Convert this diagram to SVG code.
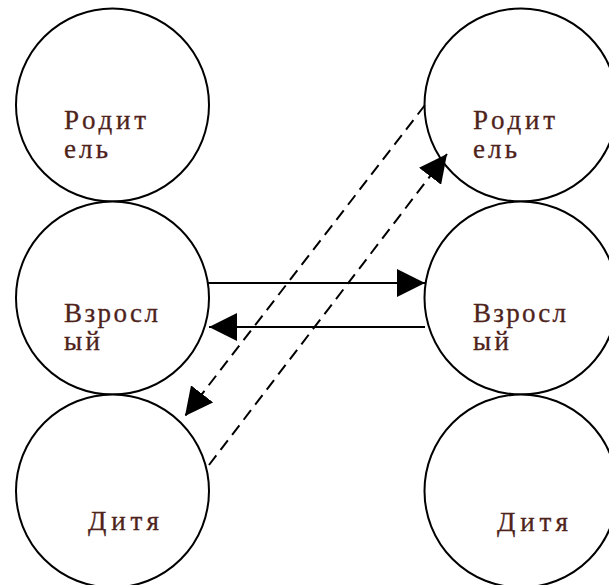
<svg xmlns="http://www.w3.org/2000/svg" width="609" height="585" viewBox="0 0 609 585">
<defs>
<style>
.node{fill:#ffffff;stroke:#000000;stroke-width:2}
.lbl{font-family:"Liberation Serif","DejaVu Serif",serif;font-size:27px;fill:#4e231b;stroke:#4e231b;stroke-width:0.3}
.solid{stroke:#000000;stroke-width:2;fill:none}
.dash{stroke:#000000;stroke-width:2;fill:none;stroke-dasharray:12 7}
</style>
<marker id="ah" markerUnits="userSpaceOnUse" markerWidth="28" markerHeight="28" refX="28" refY="14" orient="auto" viewBox="0 0 28 28">
<path d="M0,0 L28,14 L0,28 Z" fill="#000000"/>
</marker>
</defs>
<rect width="609" height="585" fill="#ffffff"/>
<g id="left-parent">
<circle class="node" cx="112.5" cy="105" r="96.5"/>
<text class="lbl" x="64" y="129" textLength="82" lengthAdjust="spacing">Родит</text>
<text class="lbl" x="64" y="158" textLength="44" lengthAdjust="spacing">ель</text>
</g>
<g id="left-adult">
<circle class="node" cx="112.5" cy="298" r="96.5"/>
<text class="lbl" x="64" y="322" textLength="94" lengthAdjust="spacing">Взросл</text>
<text class="lbl" x="64" y="350" textLength="36" lengthAdjust="spacing">ый</text>
</g>
<g id="left-child">
<circle class="node" cx="112.5" cy="491" r="96.5"/>
<text class="lbl" x="88" y="530" textLength="71" lengthAdjust="spacing">Дитя</text>
</g>
<g id="right-parent">
<circle class="node" cx="521" cy="105" r="96.5"/>
<text class="lbl" x="473" y="129" textLength="82" lengthAdjust="spacing">Родит</text>
<text class="lbl" x="473" y="158" textLength="44" lengthAdjust="spacing">ель</text>
</g>
<g id="right-adult">
<circle class="node" cx="521" cy="298" r="96.5"/>
<text class="lbl" x="473" y="322" textLength="93" lengthAdjust="spacing">Взросл</text>
<text class="lbl" x="473" y="350" textLength="36" lengthAdjust="spacing">ый</text>
</g>
<g id="right-child">
<circle class="node" cx="521" cy="491" r="96.5"/>
<text class="lbl" x="497" y="531" textLength="71" lengthAdjust="spacing">Дитя</text>
</g>
<g id="connectors">
<line class="solid" x1="208" y1="283" x2="425" y2="283" marker-end="url(#ah)"/>
<line class="solid" x1="425" y1="327" x2="209" y2="327" marker-end="url(#ah)"/>
<line class="dash" x1="425" y1="105" x2="185" y2="416" marker-end="url(#ah)"/>
<line class="dash" x1="209" y1="465" x2="447" y2="154" marker-end="url(#ah)"/>
</g>
</svg>
